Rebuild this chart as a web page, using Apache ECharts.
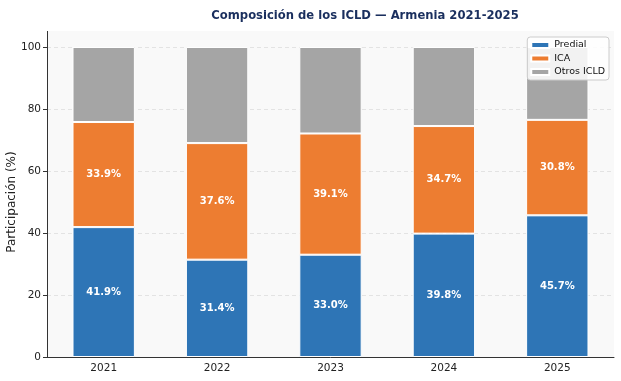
<!DOCTYPE html>
<html><head><meta charset="utf-8">
<script src="https://cdn.jsdelivr.net/npm/echarts@6/dist/echarts.min.js"></script>
<style>html,body{margin:0;padding:0;background:#fff}#c{width:621px;height:381px}</style>
</head><body><div id="c"></div>
<script>
var years = ['2021','2022','2023','2024','2025'];
var predial = [41.9, 31.4, 33.0, 39.8, 45.7];
var ica = [33.9, 37.6, 39.1, 34.7, 30.8];
var otros = [24.2, 31.0, 27.9, 25.5, 23.5];
var yTicks = [0, 20, 40, 60, 80, 100];

var FONT = 'DejaVu Sans';
var chart = echarts.init(document.getElementById('c'));
var lbl = {show:true, position:'inside', color:'#fff', fontWeight:'bold', fontSize:10, fontFamily:FONT,
  formatter:function(p){return p.value.toFixed(1)+'%';}};
function ser(name, data, color, label){
  return {name:name, type:'bar', stack:'s', data:data, barWidth:'55%',
    itemStyle:{color:color, borderColor:'#fff', borderWidth:1},
    label: label ? lbl : {show:false}, emphasis:{disabled:true}};
}
chart.setOption({
  animation:false,
  textStyle:{fontFamily:FONT},
  title:{text:'Composición de los ICLD — Armenia 2021-2025', left:360, textAlign:'center', top:5,
    textStyle:{fontFamily:FONT, fontSize:11.6, fontWeight:'bold', color:'#1a2f5e'}},
  grid:{left:47, right:7, top:47, bottom:24, show:true, backgroundColor:'#f9f9f9', borderWidth:0,
    containLabel:false, outerBoundsMode:'none'},
  graphic:[
    {type:'rect', shape:{x:47, y:31, width:567, height:16}, style:{fill:'#f9f9f9'}, z:-1, silent:true},
    {type:'line', shape:{x1:47.5, y1:31, x2:47.5, y2:47}, style:{stroke:'#333', lineWidth:1}, silent:true}
  ],
  legend:{orient:'vertical', right:12, top:37, itemWidth:18, itemHeight:6, itemGap:3.5,
    backgroundColor:'rgba(255,255,255,0.85)', borderColor:'#ccc', borderWidth:1, borderRadius:3,
    padding:[3,4,3,3], textStyle:{fontFamily:FONT, fontSize:9.5, color:'#111'},
    data:[{name:'Predial',icon:'rect'},{name:'ICA',icon:'rect'},{name:'Otros ICLD',icon:'rect'}]},
  xAxis:{type:'category', data:years,
    axisLine:{lineStyle:{color:'#333'}}, axisTick:{alignWithLabel:true, length:4, lineStyle:{color:'#333'}},
    axisLabel:{color:'#222', fontSize:10.5, fontFamily:FONT, margin:6}},
  yAxis:{type:'value', min:0, max:100, interval:20,
    name:'Participación (%)', nameLocation:'middle', nameGap:29, nameRotate:90, nameMoveOverlap:false,
    nameTextStyle:{fontFamily:FONT, fontSize:12, color:'#222'},
    axisLine:{show:true, lineStyle:{color:'#333'}}, axisTick:{show:true, length:4, lineStyle:{color:'#333'}},
    axisLabel:{color:'#222', fontSize:10.5, fontFamily:FONT, margin:6,
      formatter:function(v){return yTicks.indexOf(v)>=0 ? String(v) : '';}},
    splitLine:{show:true, lineStyle:{color:'#ddd', type:[4,3], width:0.8}}},
  series:[
    ser('Predial', predial, '#2e75b6', true),
    ser('ICA', ica, '#ed7d31', true),
    ser('Otros ICLD', otros, '#a5a5a5', false)
  ]
});
</script></body></html>
